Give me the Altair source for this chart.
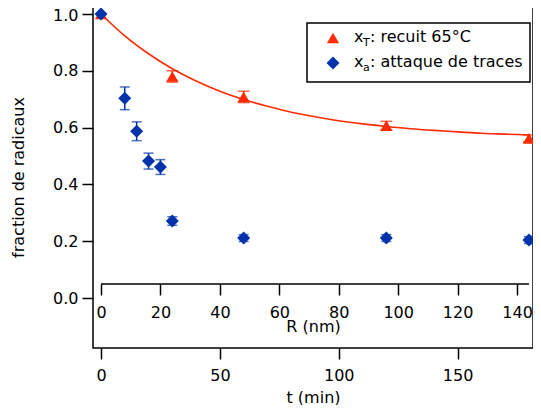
import altair as alt
import pandas as pd

# ---- data ----
t_red = [0, 30, 60, 120, 180]
y_red = [1.0, 0.780, 0.708, 0.607, 0.562]
e_red = [0.0, 0.020, 0.020, 0.015, 0.012]

t_blue = [0, 10, 15, 20, 25, 30, 60, 120, 180]
y_blue = [1.0, 0.703, 0.587, 0.482, 0.461, 0.271, 0.211, 0.211, 0.204]
e_blue = [0.0, 0.040, 0.033, 0.028, 0.026, 0.015, 0.012, 0.012, 0.012]

fit_t = [0, 10, 20, 30, 40, 50, 60, 70, 80, 90, 100, 110, 120, 130, 140, 150, 160, 170, 180]
fit_y = [1.0, 0.923, 0.860, 0.807, 0.764, 0.728, 0.699, 0.675, 0.654, 0.638, 0.624,
         0.613, 0.604, 0.596, 0.590, 0.585, 0.580, 0.577, 0.574]

R_ticks = [0, 20, 40, 60, 80, 100, 120, 140]
R_line = [0, 144]
t_ticks = [0, 50, 100, 150]
y_ticks = [0.0, 0.2, 0.4, 0.6, 0.8, 1.0]

RED = "#ff2a00"
BLUE = "#0033aa"
FONT = "DejaVu Sans"
FS = 16

red = pd.DataFrame({"t": t_red, "v": y_red, "e": e_red})
red["lo"] = red["v"] - red["e"]
red["hi"] = red["v"] + red["e"]
red_e = red[red["e"] > 0]
blue = pd.DataFrame({"t": t_blue, "v": y_blue, "e": e_blue})
blue["lo"] = blue["v"] - blue["e"]
blue["hi"] = blue["v"] + blue["e"]
blue_e = blue[blue["e"] > 0]
fit = pd.DataFrame({"t": fit_t, "v": fit_y})

tscale = alt.Scale(domain=[-3.36, 181.7], nice=False, zero=False)
Rscale = alt.Scale(domain=[-2.69, 145.36], nice=False, zero=False)
yscale = alt.Scale(domain=[-0.176, 1.028], nice=False, zero=False)

t_axis = alt.Axis(values=t_ticks, title="t (min)", orient="bottom", domain=False, tickSize=11,
                  tickWidth=1.5, tickColor="black", labelPadding=8, titlePadding=6,
                  labelFlush=False, grid=False)
y_axis = alt.Axis(values=y_ticks, format=".1f", title="fraction de radicaux", orient="left",
                  domain=False, tickSize=11, tickWidth=1.5, tickColor="black", labelPadding=4,
                  labelOffset={"condition": {"test": "datum.value >= 0.99", "value": 2}, "value": 0},
                  titlePadding=26, grid=False)
R_axis = alt.Axis(values=R_ticks, title="R (nm)", orient="bottom", domain=False, tickSize=11,
                  tickWidth=1.5, tickColor="black", labelPadding=9, titlePadding=-2, offset=-64,
                  labelFlush=False, grid=False)


def X(ax=None):
    return alt.X("t:Q", scale=tscale, axis=ax)


def Yf(field):
    return alt.Y(field, scale=yscale, axis=y_axis)


curve = alt.Chart(fit).mark_line(color=RED, strokeWidth=1.6, interpolate="monotone").encode(
    x=X(t_axis), y=Yf("v:Q"))


def errs(df, color, cap):
    bar = alt.Chart(df).mark_rule(color=color, strokeWidth=1.5).encode(
        x=X(), y=Yf("lo:Q"), y2="hi:Q")
    lo = alt.Chart(df).mark_tick(color=color, orient="horizontal", size=cap, thickness=1.5).encode(
        x=X(), y=Yf("lo:Q"))
    hi = alt.Chart(df).mark_tick(color=color, orient="horizontal", size=cap, thickness=1.5).encode(
        x=X(), y=Yf("hi:Q"))
    return [bar, lo, hi]


red_pts = alt.Chart(red).mark_point(shape="triangle-up", filled=True, color=RED, size=150,
                                    opacity=1).encode(x=X(), y=Yf("v:Q"))
blue_pts = alt.Chart(blue).mark_point(shape="diamond", filled=True, color=BLUE, size=170,
                                      opacity=1).encode(x=X(), y=Yf("v:Q"))

rline = pd.DataFrame({"r0": [R_line[0]], "r1": [R_line[1]]})
R_layer = alt.Chart(rline).mark_rule(color="black", strokeWidth=1.5).encode(
    x=alt.X("r0:Q", scale=Rscale, axis=R_axis), x2="r1:Q", y=alt.value(278))

# ---- legend (drawn) ----
one = pd.DataFrame({"a": [0]})
box = alt.Chart(one).mark_rect(fill="white", stroke="black", strokeWidth=1.5).encode(
    x=alt.value(214), x2=alt.value(437), y=alt.value(17), y2=alt.value(76))
sym1 = alt.Chart(one).mark_point(shape="triangle-up", filled=True, color=RED, size=150, opacity=1).encode(
    x=alt.value(240), y=alt.value(32))
sym2 = alt.Chart(one).mark_point(shape="diamond", filled=True, color=BLUE, size=170, opacity=1).encode(
    x=alt.value(240), y=alt.value(57))


def txt(s, x, y, size=FS):
    return alt.Chart(one).mark_text(text=s, align="left", baseline="middle", font=FONT,
                                    fontSize=size, color="black").encode(
        x=alt.value(x), y=alt.value(y))


legend = [box, sym1, sym2,
          txt("x", 261, 31), txt("T", 270, 37, 11), txt(": recuit 65°C", 277, 31),
          txt("x", 261, 56), txt("a", 270, 62, 11), txt(": attaque de traces", 277, 56)]

chart = alt.layer(
    curve, *errs(red_e, RED, 12), red_pts, *errs(blue_e, BLUE, 10), blue_pts,
    R_layer, *legend
).resolve_scale(x="independent").properties(
    width=440, height=342,
    autosize=alt.AutoSizeParams(type="none"),
    padding={"left": 85, "top": -2, "right": 0, "bottom": 57},
).configure_view(stroke="black", strokeWidth=1.5).configure_axis(
    labelFont=FONT, titleFont=FONT, labelFontSize=FS, titleFontSize=FS,
    labelColor="black", titleColor="black", titleFontWeight="normal"
)

chart.save("out.html", embed_options={"renderer": "svg", "actions": False})
